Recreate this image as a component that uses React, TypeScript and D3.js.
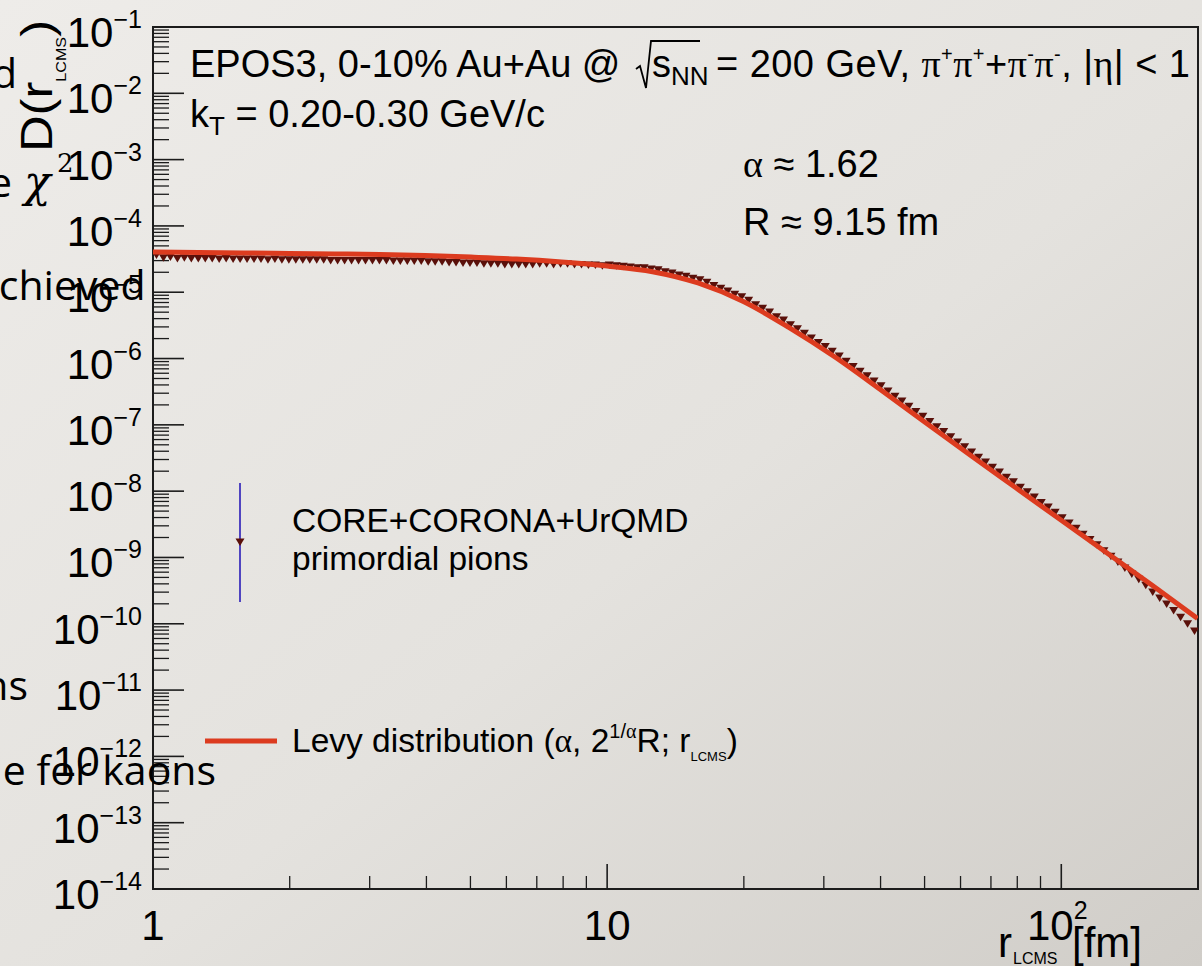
import React from 'react';
import * as d3 from 'd3';

const W = 1202;
const H = 966;

// Axis domains and histogram binning
const X_DOMAIN: [number, number] = [1, 200];
const Y_DOMAIN: [number, number] = [1e-14, 1e-1];
const N_BINS = 150;

// log10 of D(r_LCMS) for the EPOS3 histogram (down triangles), one per log-uniform bin
const markerLog10D = [
  -4.44, -4.48, -4.47, -4.49, -4.48, -4.49, -4.49, -4.49, -4.49, -4.5,
  -4.49, -4.5, -4.5, -4.5, -4.5, -4.5, -4.51, -4.5, -4.51, -4.51,
  -4.51, -4.51, -4.51, -4.51, -4.51, -4.52, -4.52, -4.52, -4.52, -4.52,
  -4.52, -4.52, -4.52, -4.52, -4.53, -4.53, -4.53, -4.53, -4.53, -4.54,
  -4.54, -4.54, -4.55, -4.55, -4.56, -4.56, -4.56, -4.57, -4.57, -4.57,
  -4.58, -4.58, -4.58, -4.58, -4.58, -4.57, -4.57, -4.58, -4.57, -4.57,
  -4.58, -4.58, -4.59, -4.59, -4.6, -4.59, -4.6, -4.61, -4.62, -4.63,
  -4.63, -4.65, -4.66, -4.69, -4.71, -4.74, -4.76, -4.79, -4.81, -4.85,
  -4.9, -4.94, -4.98, -5.03, -5.07, -5.12, -5.19, -5.24, -5.3, -5.37,
  -5.42, -5.49, -5.55, -5.62, -5.69, -5.76, -5.82, -5.89, -5.96, -6.04,
  -6.12, -6.19, -6.26, -6.34, -6.41, -6.49, -6.57, -6.64, -6.72, -6.8,
  -6.87, -6.95, -7.03, -7.1, -7.18, -7.26, -7.33, -7.41, -7.49, -7.56,
  -7.64, -7.71, -7.79, -7.86, -7.94, -8.01, -8.09, -8.17, -8.24, -8.32,
  -8.4, -8.48, -8.56, -8.65, -8.73, -8.81, -8.9, -8.98, -9.07, -9.16,
  -9.25, -9.33, -9.42, -9.52, -9.61, -9.7, -9.8, -9.9, -10.0, -10.11,
];

// Levy fit curve: log10(r) and log10(D)
const fitLog10R = [0, 0.1, 0.2, 0.3, 0.4, 0.5, 0.6, 0.7, 0.8, 0.9, 1.0, 1.1, 1.2, 1.3, 1.4, 1.5, 1.6, 1.7, 1.8, 1.9, 2.0, 2.1, 2.2, 2.3];
const fitLog10D = [
  -4.394, -4.4, -4.408, -4.415, -4.422, -4.43, -4.445, -4.47, -4.5, -4.545,
  -4.605, -4.69, -4.86, -5.14, -5.53, -5.97, -6.46, -6.96, -7.46, -7.95,
  -8.44, -8.93, -9.42, -9.92,
];

const yTickExponents = [-1, -2, -3, -4, -5, -6, -7, -8, -9, -10, -11, -12, -13, -14];
const xMajorTicks = [1, 10, 100];
const xTickBase = ['1', '10', '10'];
const xTickExp = ['', '', '2'];
const minorMultipliers = [2, 3, 4, 5, 6, 7, 8, 9];

const SANS = 'Liberation Sans, Arial, Helvetica, sans-serif';
const SERIF = 'Liberation Serif, Times New Roman, serif';
const SLIDE = 'Open Sans, sans-serif';
const RED = '#dc3b1f';
const MARK = '#5a100a';

export default function App() {
  const x = d3.scaleLog().domain(X_DOMAIN).range([153, 1198]);
  const y = d3.scaleLog().domain(Y_DOMAIN).range([889, 27]);

  const logMax = Math.log10(X_DOMAIN[1]);
  const binCenters = d3.range(N_BINS).map((i) => 10 ** (((i + 0.5) * logMax) / N_BINS));

  const fitPts: [number, number][] = fitLog10R.map((lr, i) => [x(10 ** lr), y(10 ** fitLog10D[i])]);
  const fitPath = d3.line().curve(d3.curveMonotoneX)(fitPts) || '';

  const yMinor: number[] = [];
  yTickExponents.forEach((e) => {
    if (e === -1) return;
    minorMultipliers.forEach((m) => yMinor.push(m * 10 ** e));
  });
  const xMinor: number[] = [];
  [1, 10, 100].forEach((d) => minorMultipliers.forEach((m) => {
    const v = m * d;
    if (v <= X_DOMAIN[1] && v !== 10 && v !== 100) xMinor.push(v);
  }));

  const tri = 'M-4.5,-3.5L4.5,-3.5L0,4Z';

  return (
    <svg width={W} height={H} style={{ position: 'absolute', left: 0, top: 0 }} xmlns="http://www.w3.org/2000/svg">
      <defs>
        <linearGradient id="bg" x1="0" y1="0" x2="1" y2="1">
          <stop offset="0" stopColor="#eeece9" />
          <stop offset="0.55" stopColor="#e4e2de" />
          <stop offset="1" stopColor="#d0cdc8" />
        </linearGradient>
        <clipPath id="plot">
          <rect x={153} y={27} width={1045} height={862} />
        </clipPath>
      </defs>
      <rect x={0} y={0} width={W} height={H} fill="url(#bg)" />

      {/* frame */}
      <rect x={153} y={27} width={1045} height={862} fill="none" stroke="#1c1c1c" strokeWidth={2} />

      {/* y ticks */}
      {yTickExponents.map((e) => (
        <line key={'ym' + e} x1={153} x2={184} y1={y(10 ** e)} y2={y(10 ** e)} stroke="#1c1c1c" strokeWidth={1.6} />
      ))}
      {yMinor.map((v, i) => (
        <line key={'yn' + i} x1={153} x2={169} y1={y(v)} y2={y(v)} stroke="#1c1c1c" strokeWidth={1.3} />
      ))}
      {/* x ticks */}
      {xMajorTicks.map((v) => (
        <line key={'xm' + v} x1={x(v)} x2={x(v)} y1={889} y2={864} stroke="#1c1c1c" strokeWidth={1.6} />
      ))}
      {xMinor.map((v) => (
        <line key={'xn' + v} x1={x(v)} x2={x(v)} y1={889} y2={876} stroke="#1c1c1c" strokeWidth={1.3} />
      ))}

      {/* y labels */}
      {yTickExponents.map((e) => (
        <text key={'yl' + e} x={142} y={y(10 ** e) + 20} textAnchor="end" fontFamily={SANS} fontSize={42} fill="#000">
          10<tspan fontSize={25} dy={-19}>{'\u2212' + Math.abs(e)}</tspan>
        </text>
      ))}
      {/* x labels */}
      {xMajorTicks.map((v, i) => (
        <text key={'xl' + v} x={x(v) + (xTickExp[i] ? -4 : 0)} y={940} textAnchor="middle" fontFamily={SANS} fontSize={42} fill="#000">
          {xTickBase[i]}
          {xTickExp[i] ? <tspan fontSize={25} dy={-21}>{xTickExp[i]}</tspan> : null}
        </text>
      ))}

      {/* x title */}
      <text x={998} y={957} fontFamily={SANS} fontSize={42} fill="#000">r</text>
      <text x={1013} y={964} fontFamily={SANS} fontSize={16} fill="#000">LCMS</text>
      <text x={1072} y={957} fontFamily={SANS} fontSize={42} fill="#000">[fm]</text>

      {/* y title */}
      <g transform="translate(52,20) rotate(-90)">
        <text x={0} y={0} textAnchor="end" fontFamily={SANS} fontSize={44} fill="#000" textLength={132} lengthAdjust="spacingAndGlyphs">
          D(r<tspan fontSize={14} dy={14}>LCMS</tspan><tspan dy={-14}>)</tspan>
        </text>
      </g>

      {/* data */}
      <g clipPath="url(#plot)">
        {binCenters.map((r, i) => (
          <path key={'m' + i} d={tri} transform={`translate(${x(r)},${y(10 ** markerLog10D[i])})`} fill={MARK} />
        ))}
        <path d={fitPath} fill="none" stroke={RED} strokeWidth={5} />
      </g>

      {/* title */}
      <text x={190} y={77} fontFamily={SANS} fontSize={38} fill="#000">EPOS3, 0-10% Au+Au @</text>
      <path d="M636,69 L640,66 L646,88 L651,41 L700,41" fill="none" stroke="#000" strokeWidth={1.8} />
      <text x={652} y={77} fontFamily={SANS} fontSize={38} fill="#000">
        s<tspan fontSize={26} dy={8}>NN</tspan>
      </text>
      <text x={716} y={77} fontFamily={SANS} fontSize={38} fill="#000" textLength={474} lengthAdjust="spacing">
        = 200 GeV,{' '}
        <tspan fontFamily={SERIF}>π</tspan>
        <tspan fontSize={20} dy={-16}>+</tspan>
        <tspan fontFamily={SERIF} dy={16}>π</tspan>
        <tspan fontSize={20} dy={-16}>+</tspan>
        <tspan dy={16}>+</tspan>
        <tspan fontFamily={SERIF}>π</tspan>
        <tspan fontSize={20} dy={-16}>-</tspan>
        <tspan fontFamily={SERIF} dy={16}>π</tspan>
        <tspan fontSize={20} dy={-16}>-</tspan>
        <tspan dy={16}>, |</tspan>
        <tspan fontFamily={SERIF}>η</tspan>
        <tspan>| &lt; 1</tspan>
      </text>
      <text x={190} y={127} fontFamily={SANS} fontSize={38} fill="#000">
        k<tspan fontSize={26} dy={8}>T</tspan><tspan dy={-8}> = 0.20-0.30 GeV/c</tspan>
      </text>

      <text x={743} y={177} fontFamily={SANS} fontSize={38} fill="#000">
        <tspan fontFamily={SERIF}>α</tspan> ≈ 1.62
      </text>
      <text x={743} y={235} fontFamily={SANS} fontSize={38} fill="#000">R ≈ 9.15 fm</text>

      {/* legend */}
      <line x1={240} x2={240} y1={483} y2={602} stroke="#2a1cb8" strokeWidth={1.6} />
      <path d={tri} transform="translate(240,542)" fill={MARK} />
      <text x={292} y={532} fontFamily={SANS} fontSize={33.5} fill="#000">CORE+CORONA+UrQMD</text>
      <text x={292} y={570} fontFamily={SANS} fontSize={33.5} fill="#000">primordial pions</text>
      <line x1={205} x2={277} y1={741} y2={741} stroke={RED} strokeWidth={5} />
      <text x={292} y={752} fontFamily={SANS} fontSize={33.5} fill="#000">
        Levy distribution (<tspan fontFamily={SERIF}>α</tspan>, 2<tspan fontSize={20} dy={-14}>1/</tspan><tspan fontSize={20} fontFamily={SERIF}>α</tspan><tspan dy={14}>R; r</tspan><tspan fontSize={13} dy={9}>LCMS</tspan><tspan dy={-9}>)</tspan>
      </text>

      {/* slide text overlapping on the left */}
      <text x={17} y={88} textAnchor="end" fontFamily={SLIDE} fontSize={41} fill="#000">d</text>
      <text x={12} y={197} textAnchor="end" fontFamily={SLIDE} fontSize={41} fill="#000">e</text>
      <text x={24} y={197} fontFamily="DejaVu Serif, serif" fontStyle="italic" fontSize={44} fill="#000">χ</text>
      <text x={57} y={172} fontFamily="DejaVu Serif, serif" fontSize={26} fill="#000">2</text>
      <text x={-24} y={300} fontFamily={SLIDE} fontSize={41} fill="#000">achieved</text>
      <text x={28} y={700} textAnchor="end" fontFamily={SLIDE} fontSize={41} fill="#000">ns</text>
      <text x={216} y={785} textAnchor="end" fontFamily={SLIDE} fontSize={41} fill="#000">e for kaons</text>
    </svg>
  );
}
